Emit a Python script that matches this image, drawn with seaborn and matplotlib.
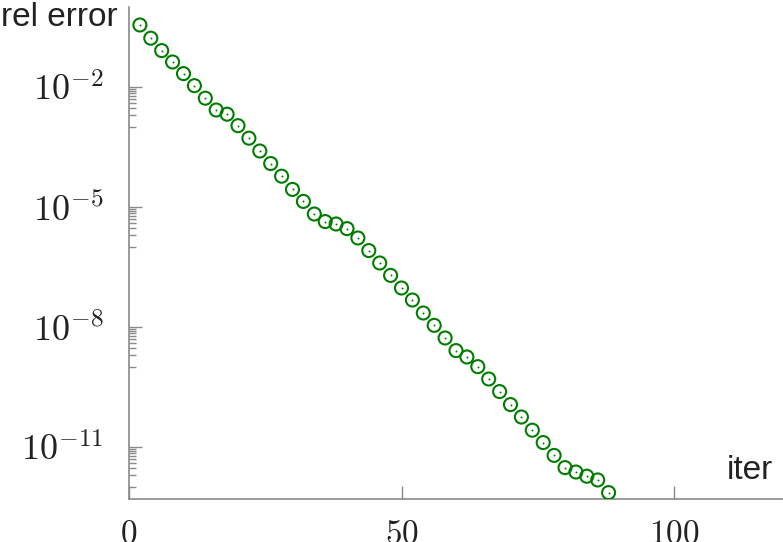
import numpy as np
import pandas as pd
import matplotlib
matplotlib.use("Agg")
import matplotlib.pyplot as plt
import matplotlib.ticker as mticker
import seaborn as sns

# iterations and relative error
iters = [2, 4, 6, 8, 10, 12, 14, 16, 18, 20, 22, 24, 26, 28, 30, 32, 34, 36, 38, 40, 42, 44,
         46, 48, 50, 52, 54, 56, 58, 60, 62, 64, 66, 68, 70, 72, 74, 76, 78, 80, 82, 84, 86, 88]
rel_error = [0.355, 0.166, 0.0813, 0.0422, 0.0216, 0.0108, 5.25e-3, 2.66e-3, 2.09e-3, 1.08e-3,
             5.25e-4, 2.51e-4, 1.22e-4, 5.89e-5, 2.75e-5, 1.38e-5, 6.68e-6, 4.32e-6, 3.76e-6,
             2.88e-6, 1.68e-6, 8.13e-7, 3.98e-7, 1.95e-7, 9.44e-8, 4.73e-8, 2.24e-8, 1.10e-8,
             5.31e-9, 2.57e-9, 1.78e-9, 1.02e-9, 5.01e-10, 2.43e-10, 1.15e-10, 5.62e-11,
             2.63e-11, 1.29e-11, 6.17e-12, 3.05e-12, 2.37e-12, 1.86e-12, 1.50e-12, 7.24e-13]

x_ticks = [0, 50, 100]
y_major = [1e-2, 1e-5, 1e-8, 1e-11]

df = pd.DataFrame({"iter": iters, "rel error": rel_error})

sns.set_style("white")
plt.rcParams["mathtext.fontset"] = "cm"
plt.rcParams["font.family"] = ["Liberation Sans", "DejaVu Sans"]

green = "#007c00"
grey = "#8a8a8a"

fig = plt.figure(figsize=(7.83, 5.42), dpi=100)
ax = fig.add_axes([129 / 783, 43 / 542, 654 / 783, 492 / 542])

# hollow circles with a tiny dot in the middle
sns.scatterplot(data=df, x="iter", y="rel error", ax=ax, marker="o", s=88,
                color=green, facecolor="none", edgecolor=green, linewidth=1.5, zorder=3)
sns.scatterplot(data=df, x="iter", y="rel error", ax=ax, marker="o", s=2,
                color=green, edgecolor=green, linewidth=0, zorder=4)

ax.set_yscale("log")
ax.set_xlim(0, 120)
ax.set_ylim(10 ** -12.3, 1)

ax.set_xticks(x_ticks)
ax.set_xticklabels([r"$%d$" % t for t in x_ticks])
ax.set_yticks(y_major)
ax.set_yticklabels([r"$10^{%d}$" % round(np.log10(v)) for v in y_major])

# minor ticks only in the decade below each major tick
minor = [m * e / 10 for e in y_major for m in range(1, 10)]
ax.yaxis.set_minor_locator(mticker.FixedLocator(minor))
ax.yaxis.set_minor_formatter(mticker.NullFormatter())
ax.xaxis.set_minor_locator(mticker.NullLocator())

ax.tick_params(axis="both", which="both", left=True, bottom=True)
ax.tick_params(axis="both", which="major", direction="in", length=9.5, width=1,
               color=grey, labelsize=24, labelcolor="#222222")
ax.tick_params(axis="y", which="minor", direction="in", length=4.8, width=1, color=grey)
ax.tick_params(axis="y", which="major", pad=18, labelsize=26)
ax.tick_params(axis="x", which="major", pad=14)

for side in ["top", "right"]:
    ax.spines[side].set_visible(False)
for side in ["left", "bottom"]:
    ax.spines[side].set_color(grey)
    ax.spines[side].set_linewidth(1.2)

ax.set_xlabel("")
ax.set_ylabel("")
fig.text(0.001, 1 - 18 / 542, "rel error", ha="left", va="center", fontsize=24, color="#222222")
fig.text(773 / 783, 1 - 479 / 542, "iter", ha="right", va="baseline", fontsize=24, color="#222222")

fig.savefig("out.png", dpi=100)
